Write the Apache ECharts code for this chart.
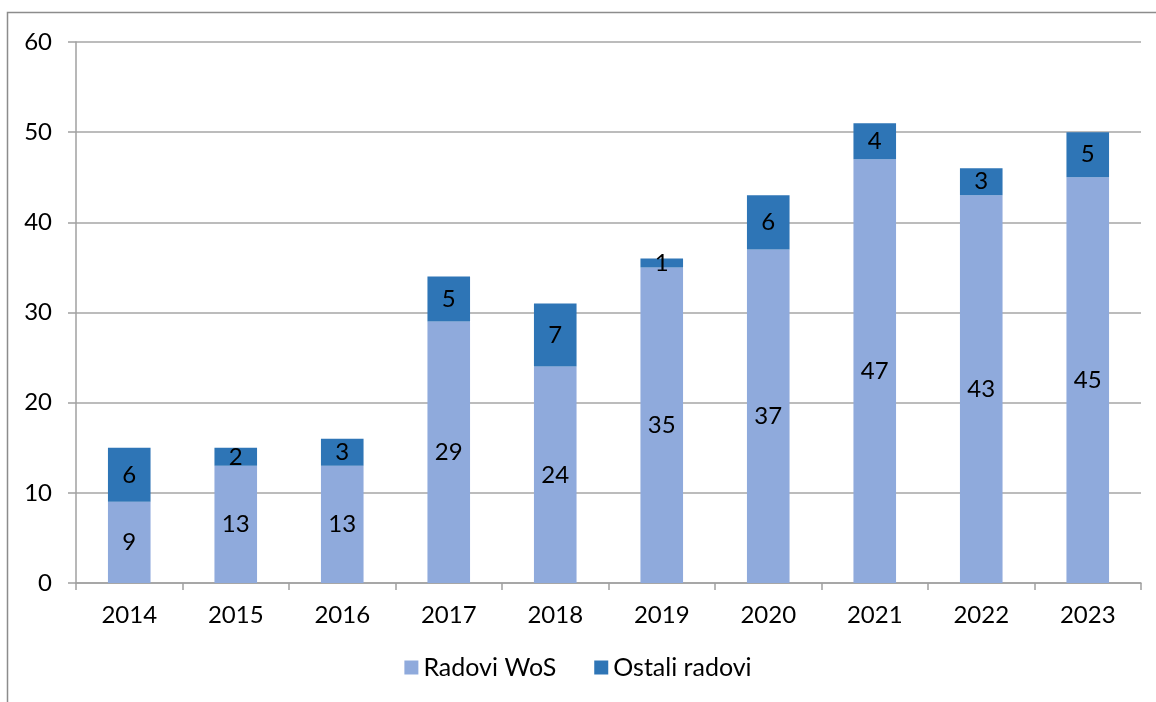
<!DOCTYPE html>
<html><head><meta charset="utf-8">
<script src="https://cdn.jsdelivr.net/npm/echarts@6/dist/echarts.min.js"></script>
<style>html,body{margin:0;padding:0;background:#fff}#c{width:1156px;height:702px}</style>
</head><body><div id="c"></div>
<script>
const categories = ['2014','2015','2016','2017','2018','2019','2020','2021','2022','2023'];
const wosValues = [9,13,13,29,24,35,37,47,43,45];
const otherValues = [6,2,3,5,7,1,6,4,3,5];
const seriesNames = ['Radovi WoS','Ostali radovi'];
const yTicks = {min:0,max:60,interval:10};

const font = 'Lato, "Open Sans", sans-serif';
const chart = echarts.init(document.getElementById('c'));
chart.setOption({
  animation:false,
  graphic:[{type:'rect',shape:{x:7.5,y:12.5,width:1170,height:720},style:{fill:'none',stroke:'#8c8c8c',lineWidth:1.5},silent:true}],
  grid:{left:76,right:15,top:42,bottom:119},
  legend:{bottom:17,left:'center',itemWidth:14,itemHeight:14,itemGap:38,icon:'rect',
    textStyle:{fontFamily:font,fontSize:25,color:'#000'},data:seriesNames},
  xAxis:{type:'category',data:categories,
    axisLine:{lineStyle:{color:'#a0a0a0',width:1.5}},
    axisTick:{show:true,length:7,lineStyle:{color:'#a0a0a0',width:1.5}},
    axisLabel:{fontFamily:font,fontSize:24,color:'#000',margin:20}},
  yAxis:{type:'value',min:yTicks.min,max:yTicks.max,interval:yTicks.interval,
    axisLine:{show:true,lineStyle:{color:'#a0a0a0',width:1.5}},
    axisTick:{show:true,length:8,lineStyle:{color:'#a0a0a0',width:1.5}},
    splitLine:{lineStyle:{color:'#a6a6a6',width:1.5}},
    axisLabel:{fontFamily:font,fontSize:24,color:'#000',margin:24}},
  series:[
    {name:seriesNames[0],type:'bar',stack:'a',barWidth:'40%',data:wosValues,
     itemStyle:{color:'#8faadc'},
     label:{show:true,position:'inside',fontFamily:font,fontSize:24,color:'#000'}},
    {name:seriesNames[1],type:'bar',stack:'a',barWidth:'40%',data:otherValues,
     itemStyle:{color:'#2e75b6'},
     label:{show:true,position:'inside',fontFamily:font,fontSize:24,color:'#000'}}
  ]
});
</script></body></html>
